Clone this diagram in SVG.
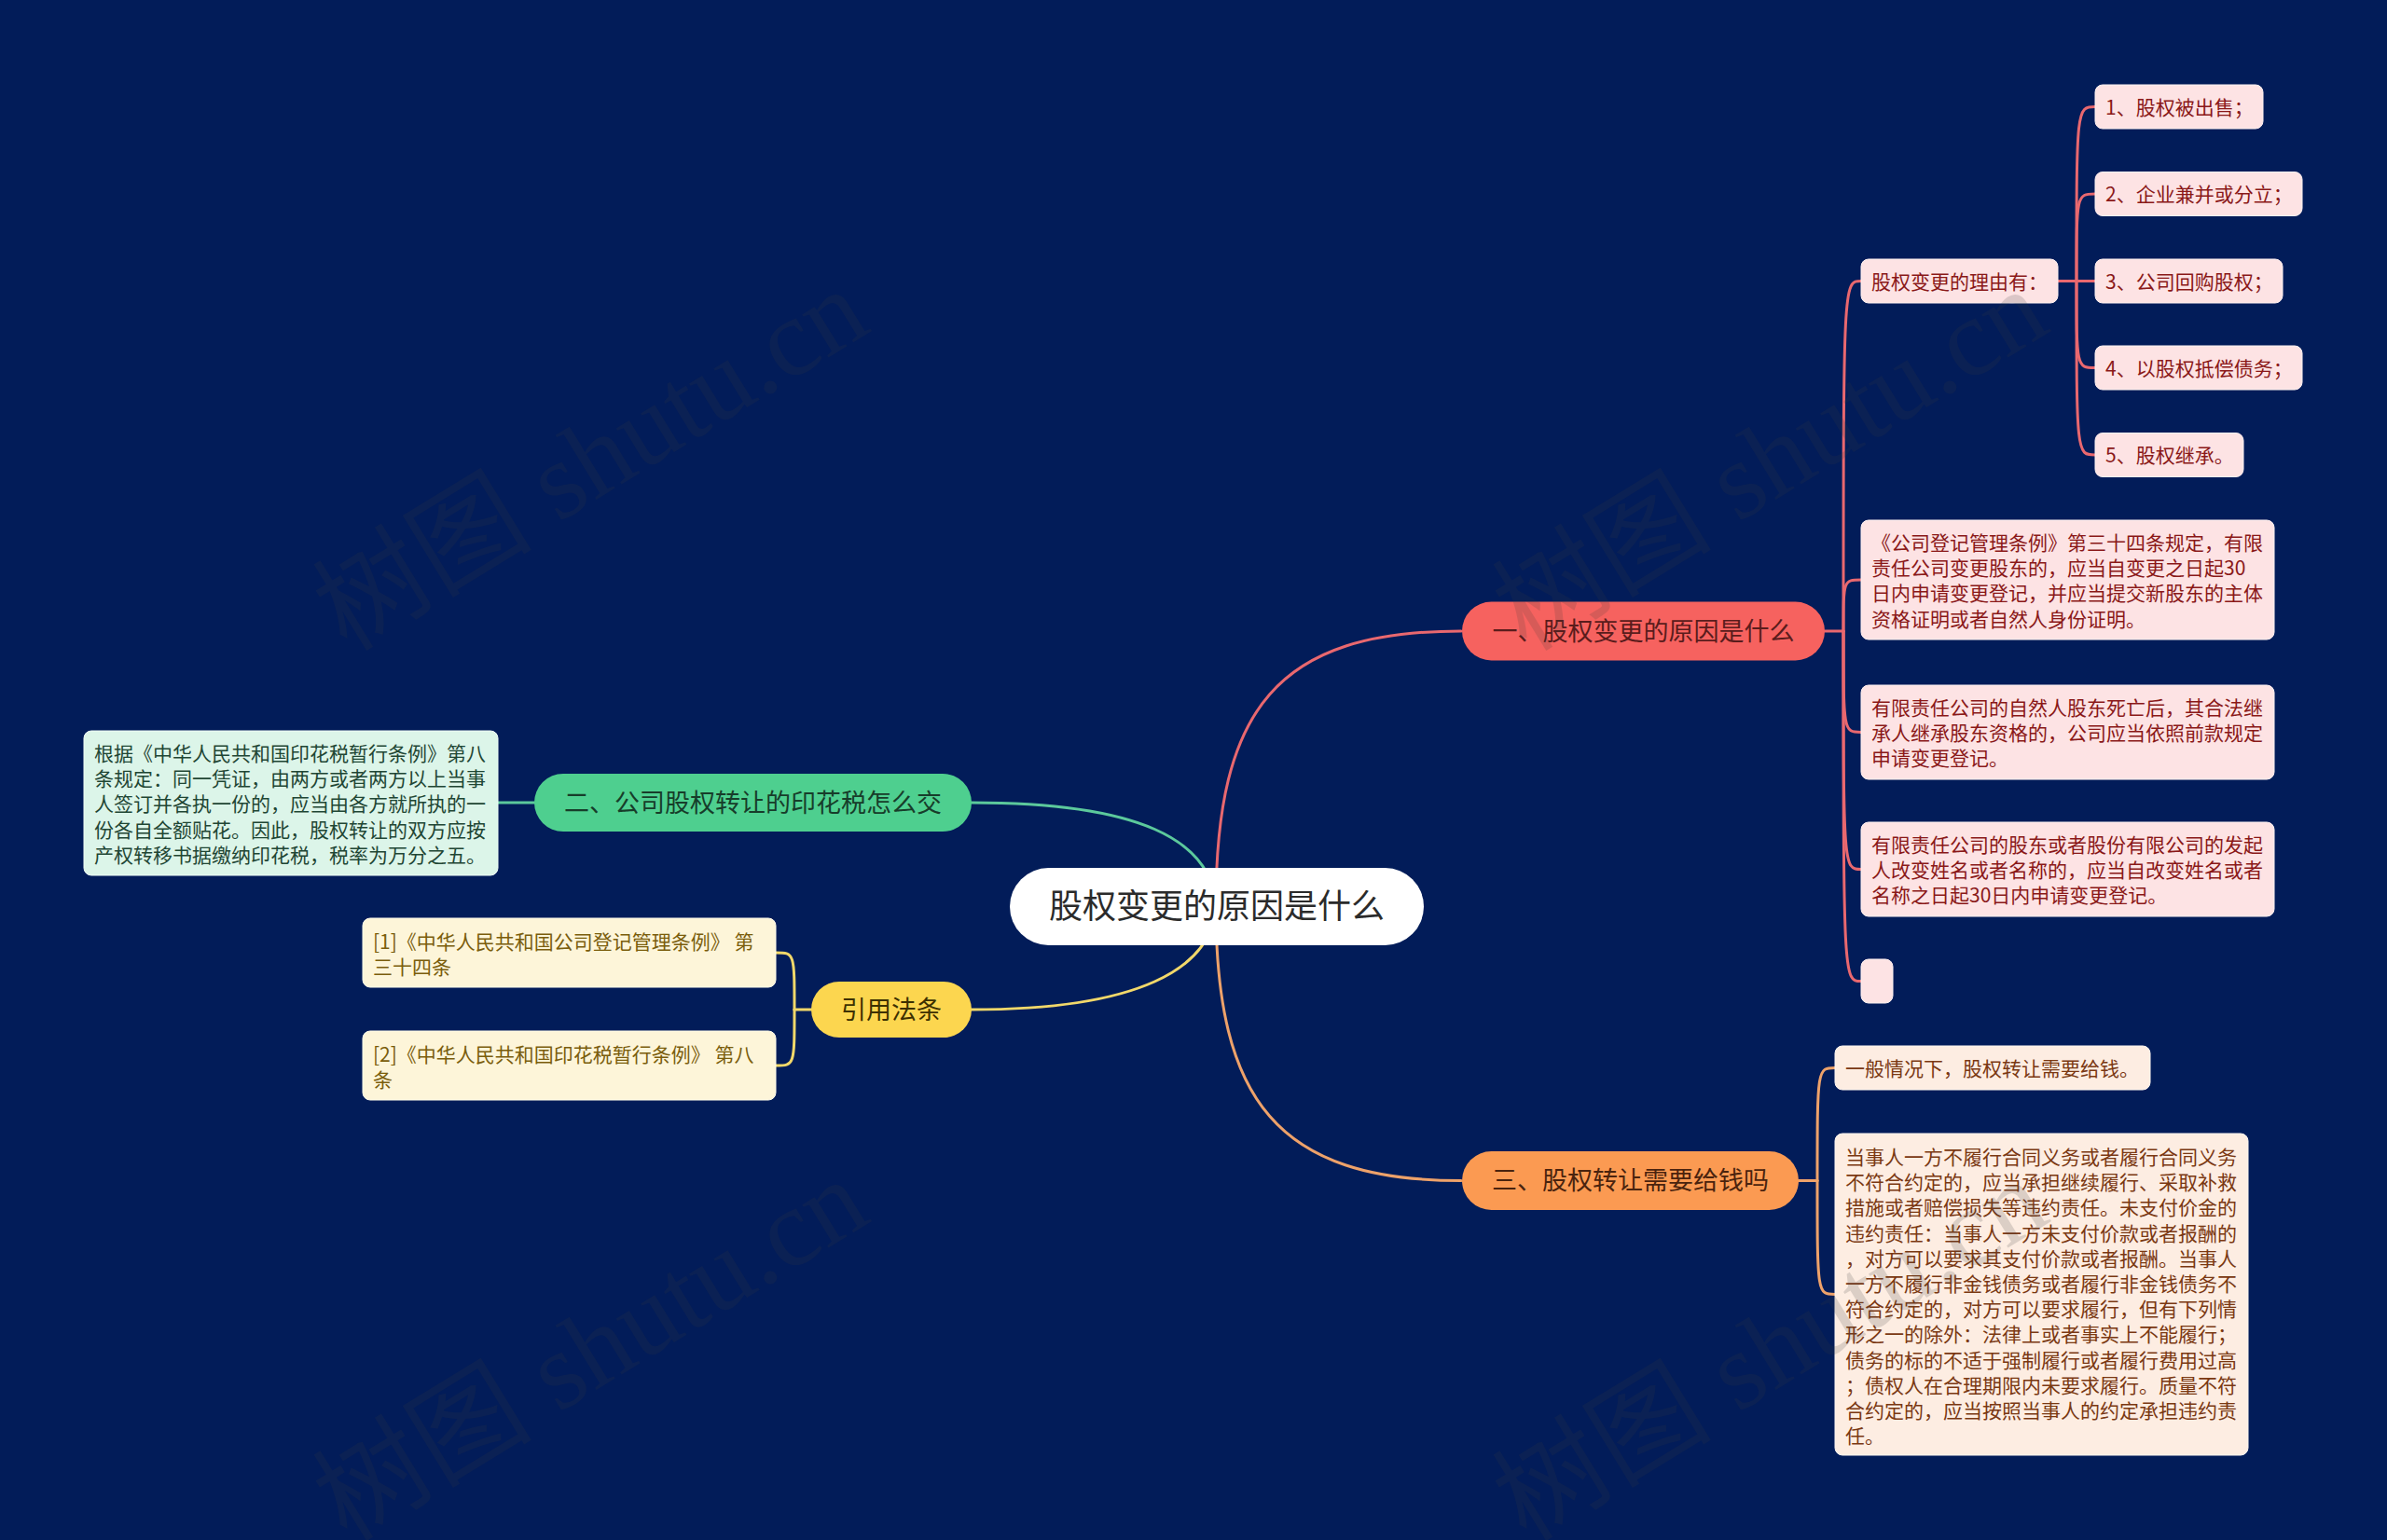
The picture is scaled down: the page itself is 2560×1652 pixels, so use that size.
<svg xmlns="http://www.w3.org/2000/svg" width="2560" height="1652" viewBox="0 0 2560 1652">
<style>
text{font-family:"Noto Sans CJK SC","Noto Sans",sans-serif;}
.c{fill:none;stroke-width:3;stroke-linecap:round;}
.cr{stroke:#e9686f;}
.cg{stroke:#5cc99c;}
.cy{stroke:#f2d86a;}
.co{stroke:#eea26a;}
.s{font-size:21px;}
.m{font-size:27px;text-anchor:middle;}
.bred{fill:#fde3e4;stroke:#fff1f1;stroke-width:1;}
.tred{fill:#8a1818;}
.bgrn{fill:#dcf5e9;stroke:#effcf5;stroke-width:1;}
.tgrn{fill:#1f4634;}
.byel{fill:#fdf5d9;stroke:#fffbea;stroke-width:1;}
.tyel{fill:#7a5d0c;}
.bora{fill:#fdede2;stroke:#fff6f0;stroke-width:1;}
.tora{fill:#7a3812;}
.wm{font-family:"Liberation Serif","Noto Sans CJK SC",serif;font-size:118px;fill:#3c3c3c;opacity:0.17;}
</style>
<rect x="0" y="0" width="2560" height="1652" fill="#021c59"/>

<g id="connectors">
  <path class="c cr" d="M 1304 972 C 1304 760, 1370 677, 1567 677"/>
  <path class="c co" d="M 1304 972 C 1304 1180, 1370 1266.5, 1567 1266.5"/>
  <path class="c cg" d="M 1304 972 C 1300 900, 1220 861, 1042 861"/>
  <path class="c cy" d="M 1304 972 C 1300 1040, 1220 1083, 1042 1083"/>
  <path class="c cr" d="M 1957 677 L 1977 677"/>
  <path class="c cr" d="M 1977 677 C 1977 301.5, 1977 301.5, 1996 301.5"/>
  <path class="c cr" d="M 1977 677 C 1977 622, 1977 622, 1996 622"/>
  <path class="c cr" d="M 1977 677 C 1977 785.5, 1977 785.5, 1996 785.5"/>
  <path class="c cr" d="M 1977 677 C 1977 932.5, 1977 932.5, 1996 932.5"/>
  <path class="c cr" d="M 1977 677 C 1977 1052.5, 1977 1052.5, 1996 1052.5"/>
  <path class="c cr" d="M 2207 301.5 L 2227 301.5"/>
  <path class="c cr" d="M 2227 301.5 C 2227 114.5, 2227 114.5, 2247 114.5"/>
  <path class="c cr" d="M 2227 301.5 C 2227 208, 2227 208, 2247 208"/>
  <path class="c cr" d="M 2227 301.5 L 2247 301.5"/>
  <path class="c cr" d="M 2227 301.5 C 2227 394.5, 2227 394.5, 2247 394.5"/>
  <path class="c cr" d="M 2227 301.5 C 2227 488, 2227 488, 2247 488"/>
  <path class="c co" d="M 1929 1266.5 L 1949 1266.5"/>
  <path class="c co" d="M 1949 1266.5 C 1949 1145.5, 1949 1145.5, 1968 1145.5"/>
  <path class="c co" d="M 1949 1266.5 C 1949 1388.5, 1949 1388.5, 1968 1388.5"/>
  <path class="c cg" d="M 573 861 L 534 861"/>
  <path class="c cy" d="M 870 1083 L 852 1083"/>
  <path class="c cy" d="M 852 1083 C 852 1022, 852 1022, 832 1022"/>
  <path class="c cy" d="M 852 1083 C 852 1143, 852 1143, 832 1143"/>
</g>

<g id="root">
  <rect x="1083" y="931" width="444" height="83" rx="41.5" fill="#ffffff"/>
  <text x="1305" y="985" font-size="36" text-anchor="middle" fill="#2b2b2b">股权变更的原因是什么</text>
</g>

<g id="n1">
  <rect x="1568" y="645.5" width="389" height="63" rx="31.5" fill="#f6625f"/>
  <text class="m" x="1762.5" y="686.5" fill="#5a1c1c">一、股权变更的原因是什么</text>
</g>
<g id="n2">
  <rect x="573" y="830" width="469" height="62" rx="31" fill="#4ecf8f"/>
  <text class="m" x="807.5" y="870.5" fill="#173d2a">二、公司股权转让的印花税怎么交</text>
</g>
<g id="n3">
  <rect x="870" y="1053" width="172" height="60" rx="30" fill="#fcd64f"/>
  <text class="m" x="956" y="1092.5" fill="#3d3000">引用法条</text>
</g>
<g id="n4">
  <rect x="1568" y="1235" width="361" height="63" rx="31.5" fill="#fb9a52"/>
  <text class="m" x="1748.5" y="1276" fill="#4a230e">三、股权转让需要给钱吗</text>
</g>

<g id="n1-reasons">
  <rect class="bred" x="1996" y="278" width="211" height="47" rx="8"/>
  <text class="s tred" x="2007" y="309.5">股权变更的理由有：</text>
</g>
<g id="n1-r1">
  <rect class="bred" x="2247" y="91" width="180" height="47" rx="8"/>
  <text class="s tred" x="2258" y="122.5">1、股权被出售；</text>
</g>
<g id="n1-r2">
  <rect class="bred" x="2247" y="184.5" width="222" height="47" rx="8"/>
  <text class="s tred" x="2258" y="216">2、企业兼并或分立；</text>
</g>
<g id="n1-r3">
  <rect class="bred" x="2247" y="278" width="201" height="47" rx="8"/>
  <text class="s tred" x="2258" y="309.5">3、公司回购股权；</text>
</g>
<g id="n1-r4">
  <rect class="bred" x="2247" y="371" width="222" height="47" rx="8"/>
  <text class="s tred" x="2258" y="402.5">4、以股权抵偿债务；</text>
</g>
<g id="n1-r5">
  <rect class="bred" x="2247" y="464.5" width="159" height="47" rx="8"/>
  <text class="s tred" x="2258" y="496">5、股权继承。</text>
</g>

<g id="n1-a">
  <rect class="bred" x="1996" y="558" width="443" height="128" rx="8"/>
  <text class="s tred">
    <tspan x="2007" y="590">《公司登记管理条例》第三十四条规定，有限</tspan>
    <tspan x="2007" y="617.2">责任公司变更股东的，应当自变更之日起30</tspan>
    <tspan x="2007" y="644.4">日内申请变更登记，并应当提交新股东的主体</tspan>
    <tspan x="2007" y="671.6">资格证明或者自然人身份证明。</tspan>
  </text>
</g>
<g id="n1-b">
  <rect class="bred" x="1996" y="735" width="443" height="101" rx="8"/>
  <text class="s tred">
    <tspan x="2007" y="767">有限责任公司的自然人股东死亡后，其合法继</tspan>
    <tspan x="2007" y="794.2">承人继承股东资格的，公司应当依照前款规定</tspan>
    <tspan x="2007" y="821.4">申请变更登记。</tspan>
  </text>
</g>
<g id="n1-c">
  <rect class="bred" x="1996" y="882" width="443" height="101" rx="8"/>
  <text class="s tred">
    <tspan x="2007" y="914">有限责任公司的股东或者股份有限公司的发起</tspan>
    <tspan x="2007" y="941.2">人改变姓名或者名称的，应当自改变姓名或者</tspan>
    <tspan x="2007" y="968.4">名称之日起30日内申请变更登记。</tspan>
  </text>
</g>
<g id="n1-empty">
  <rect class="bred" x="1996" y="1029" width="34" height="47" rx="8"/>
</g>

<g id="n2-a">
  <rect class="bgrn" x="90" y="784" width="444" height="155" rx="8"/>
  <text class="s tgrn">
    <tspan x="101" y="816">根据《中华人民共和国印花税暂行条例》第八</tspan>
    <tspan x="101" y="843.2">条规定：同一凭证，由两方或者两方以上当事</tspan>
    <tspan x="101" y="870.4">人签订并各执一份的，应当由各方就所执的一</tspan>
    <tspan x="101" y="897.6">份各自全额贴花。因此，股权转让的双方应按</tspan>
    <tspan x="101" y="924.8">产权转移书据缴纳印花税，税率为万分之五。</tspan>
  </text>
</g>

<g id="n3-a">
  <rect class="byel" x="389" y="985" width="443" height="74" rx="8"/>
  <text class="s tyel">
    <tspan x="400" y="1018">[1]《中华人民共和国公司登记管理条例》 第</tspan>
    <tspan x="400" y="1045.2">三十四条</tspan>
  </text>
</g>
<g id="n3-b">
  <rect class="byel" x="389" y="1106" width="443" height="74" rx="8"/>
  <text class="s tyel">
    <tspan x="400" y="1139">[2]《中华人民共和国印花税暂行条例》 第八</tspan>
    <tspan x="400" y="1166.2">条</tspan>
  </text>
</g>

<g id="n4-a">
  <rect class="bora" x="1968" y="1122" width="338" height="47" rx="8"/>
  <text class="s tora" x="1979" y="1153.5">一般情况下，股权转让需要给钱。</text>
</g>
<g id="n4-b">
  <rect class="bora" x="1968" y="1216" width="443" height="345" rx="8"/>
  <text class="s tora">
    <tspan x="1979" y="1249">当事人一方不履行合同义务或者履行合同义务</tspan>
    <tspan x="1979" y="1276.2">不符合约定的，应当承担继续履行、采取补救</tspan>
    <tspan x="1979" y="1303.4">措施或者赔偿损失等违约责任。未支付价金的</tspan>
    <tspan x="1979" y="1330.6">违约责任：当事人一方未支付价款或者报酬的</tspan>
    <tspan x="1979" y="1357.8">，对方可以要求其支付价款或者报酬。当事人</tspan>
    <tspan x="1979" y="1385">一方不履行非金钱债务或者履行非金钱债务不</tspan>
    <tspan x="1979" y="1412.2">符合约定的，对方可以要求履行，但有下列情</tspan>
    <tspan x="1979" y="1439.4">形之一的除外：法律上或者事实上不能履行；</tspan>
    <tspan x="1979" y="1466.6">债务的标的不适于强制履行或者履行费用过高</tspan>
    <tspan x="1979" y="1493.8">；债权人在合理期限内未要求履行。质量不符</tspan>
    <tspan x="1979" y="1521">合约定的，应当按照当事人的约定承担违约责</tspan>
    <tspan x="1979" y="1548.2">任。</tspan>
  </text>
</g>

<g id="watermarks">
  <text class="wm" transform="translate(372 700) rotate(-31.5)">树图 shutu.cn</text>
  <text class="wm" transform="translate(1637 700) rotate(-31.5)">树图 shutu.cn</text>
  <text class="wm" transform="translate(372 1655) rotate(-31.5)">树图 shutu.cn</text>
  <text class="wm" transform="translate(1637 1655) rotate(-31.5)">树图 shutu.cn</text>
</g>
</svg>
